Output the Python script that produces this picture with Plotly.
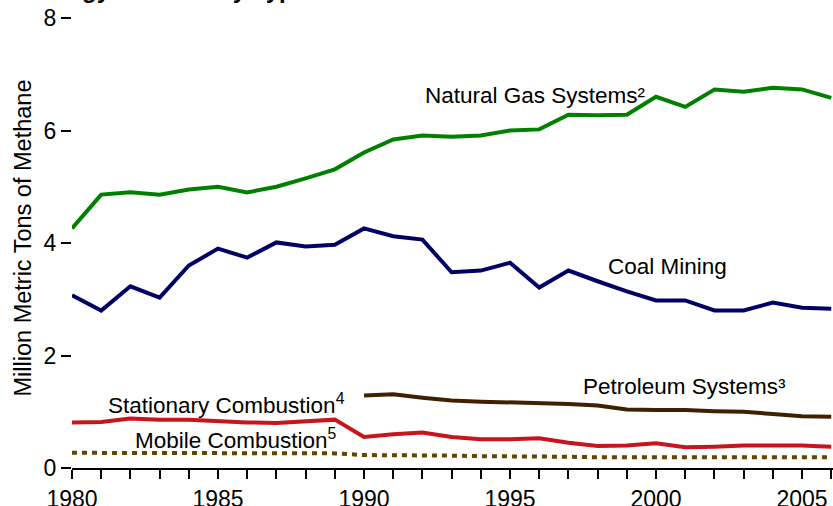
import plotly.graph_objects as go

years = list(range(1980, 2007))
natural_gas = [4.26, 4.86, 4.90, 4.86, 4.95, 5.00, 4.90, 5.00, 5.15, 5.31, 5.61, 5.84, 5.91, 5.89, 5.91,
               6.00, 6.02, 6.28, 6.27, 6.28, 6.60, 6.42, 6.73, 6.69, 6.76, 6.73, 6.58]
coal_mining = [3.07, 2.80, 3.23, 3.03, 3.60, 3.90, 3.74, 4.01, 3.94, 3.97, 4.26, 4.12, 4.06, 3.48, 3.51,
               3.65, 3.21, 3.51, 3.32, 3.14, 2.98, 2.98, 2.80, 2.80, 2.94, 2.85, 2.83]
petro_years = list(range(1990, 2007))
petroleum = [1.29, 1.31, 1.25, 1.20, 1.18, 1.17, 1.15, 1.14, 1.11, 1.04, 1.03, 1.03, 1.01, 1.00, 0.96, 0.92, 0.91]
stationary = [0.81, 0.82, 0.88, 0.86, 0.86, 0.83, 0.81, 0.80, 0.83, 0.86, 0.55, 0.60, 0.63, 0.55, 0.51,
              0.51, 0.53, 0.45, 0.39, 0.40, 0.44, 0.37, 0.38, 0.40, 0.40, 0.40, 0.38]
mobile = [0.27, 0.27, 0.27, 0.27, 0.27, 0.26, 0.26, 0.26, 0.26, 0.26, 0.23, 0.23, 0.22, 0.22, 0.21,
          0.21, 0.20, 0.20, 0.19, 0.19, 0.19, 0.18, 0.18, 0.18, 0.18, 0.19, 0.19]

y_ticks = [0, 2, 4, 6, 8]
x_ticks = [1980, 1985, 1990, 1995, 2000, 2005]

FONT = "Liberation Sans, Arial, sans-serif"

fig = go.Figure()
fig.add_trace(go.Scatter(x=years, y=mobile, mode="lines",
                         line=dict(color="#634400", width=4, dash="5px,5px")))
fig.add_trace(go.Scatter(x=years, y=stationary, mode="lines",
                         line=dict(color="#c8141c", width=4)))
fig.add_trace(go.Scatter(x=petro_years, y=petroleum, mode="lines",
                         line=dict(color="#3f2000", width=4)))
fig.add_trace(go.Scatter(x=years, y=coal_mining, mode="lines",
                         line=dict(color="#000066", width=4)))
fig.add_trace(go.Scatter(x=years, y=natural_gas, mode="lines",
                         line=dict(color="#008000", width=4)))

labels = [
    ("Natural Gas Systems²", 1992.02, 6.62),
    ("Coal Mining", 1998.29, 3.58),
    ("Petroleum Systems³", 1997.43, 1.45),
    ("Stationary Combustion<sup>4</sup>", 1981.16, 1.14),
    ("Mobile Combustion<sup>5</sup>", 1982.09, 0.51),
]
for text, x, y in labels:
    fig.add_annotation(x=x, y=y, xref="x", yref="y", text=text, showarrow=False,
                       xanchor="left", yanchor="middle",
                       font=dict(family=FONT, size=22.5, color="black"))

fig.add_annotation(x=-0.0657, y=0.51, xref="paper", yref="paper",
                   text="Million Metric Tons of Methane", textangle=-90, showarrow=False,
                   xanchor="center", yanchor="middle",
                   font=dict(family=FONT, size=23.5, color="black"))

fig.add_annotation(x=0.312, y=1.028, xref="paper", yref="paper",
                   text="<b>Methane Emissions from Energy Sources by Type</b>", showarrow=False,
                   xanchor="right", yanchor="bottom",
                   font=dict(family=FONT, size=24, color="black"))

fig.update_layout(
    width=833, height=506,
    margin=dict(l=72, r=0, t=18, b=38, autoexpand=False),
    plot_bgcolor="white", paper_bgcolor="white",
    showlegend=False,
    font=dict(family=FONT, size=23, color="black"),
    xaxis=dict(range=[1980, 2006.06], tickvals=x_ticks, ticktext=[str(v) for v in x_ticks],
               automargin=False, ticklabeloverflow="allow",
               showgrid=False, zeroline=False, showline=True, linecolor="black", linewidth=2,
               ticks="outside", ticklen=9, tickwidth=2, tickcolor="black",
               minor=dict(dtick=1, tick0=1980, ticks="outside", ticklen=9, tickwidth=2,
                          tickcolor="black", showgrid=False),
               tickfont=dict(family=FONT, size=23, color="black")),
    yaxis=dict(range=[0, 8], tickvals=y_ticks, showgrid=False, zeroline=False, showline=False,
               automargin=False, ticklabeloverflow="allow",
               ticks="outside", ticklen=10, tickwidth=2, tickcolor="black",
               tickfont=dict(family=FONT, size=23, color="black")),
)

fig.write_html("out.html", config={"displayModeBar": False},
               post_script="document.body.style.margin='0';")
